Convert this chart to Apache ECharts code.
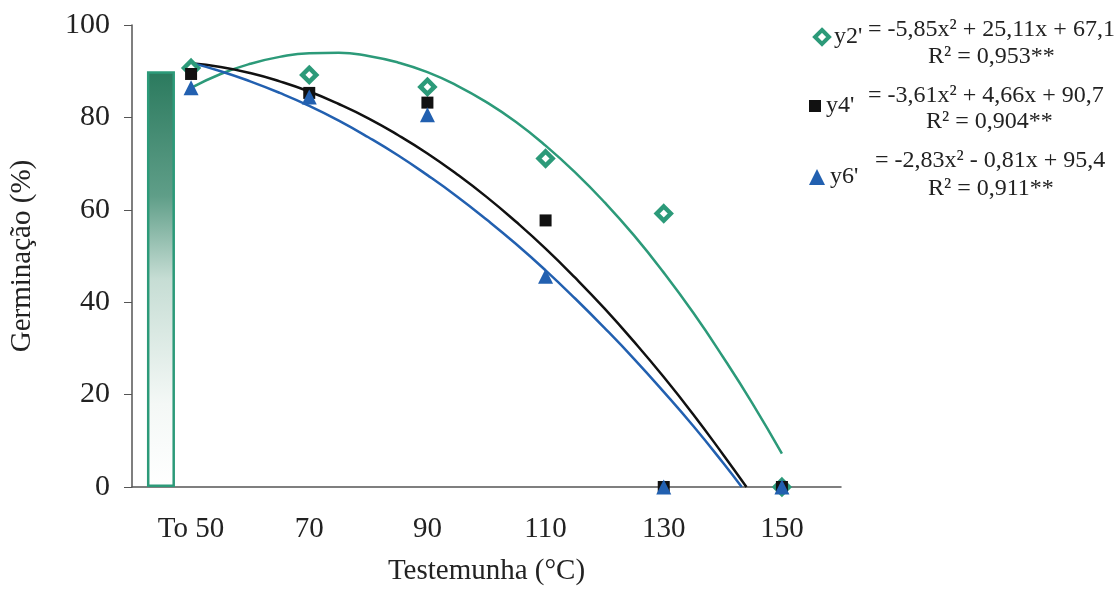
<!DOCTYPE html>
<html><head><meta charset="utf-8">
<script src="https://cdn.jsdelivr.net/npm/echarts@6/dist/echarts.min.js"></script>
<style>html,body{margin:0;padding:0;background:#fff}#c{width:1120px;height:591px}</style>
</head><body><div id="c"></div>
<script>
// ---- data ----
const categories = ['To 50', '70', '90', '110', '130', '150'];
const controlLabel = 'To';
const controlX = 0.745;          // position of the control bar (category units)
const controlValue = 90;
const y2Points = [90.7, 89.2, 86.6, 71.1, 59.2, 0];
const y4Points = [89.4, 85.3, 83.2, 57.7, 0, 0];
const y6Points = [86.4, 84.4, 80.6, 45.6, 0, 0];
const y2CurveX = [1, 1.25, 1.5, 1.75, 2, 2.25, 2.5, 2.75, 3, 3.25, 3.5, 3.75, 4, 4.25, 4.5, 4.75, 5, 5.25, 5.5, 5.75, 6];
const y2Curve  = [86.4, 89.4, 91.6, 93.1, 93.9, 94.0, 93.3, 91.9, 89.8, 86.9, 83.3, 79.0, 73.9, 68.1, 61.6, 54.4, 46.4, 37.7, 28.2, 18.1, 7.2];
const y4CurveX = [1, 1.25, 1.5, 1.75, 2, 2.25, 2.5, 2.75, 3, 3.25, 3.5, 3.75, 4, 4.25, 4.5, 4.75, 5, 5.25, 5.5, 5.7];
const y4Curve  = [91.7, 90.9, 89.6, 87.8, 85.6, 82.9, 79.8, 76.2, 72.2, 67.7, 62.8, 57.4, 51.6, 45.3, 38.6, 31.4, 23.8, 15.7, 7.1, 0];
const y6CurveX = [1, 1.25, 1.5, 1.75, 2, 2.25, 2.5, 2.75, 3, 3.25, 3.5, 3.75, 4, 4.25, 4.5, 4.75, 5, 5.25, 5.5, 5.66];
const y6Curve  = [91.8, 90.0, 87.8, 85.3, 82.5, 79.3, 75.7, 71.8, 67.5, 62.9, 57.9, 52.6, 46.9, 40.8, 34.4, 27.7, 20.6, 13.2, 5.3, 0];
const seriesNames = ["y2'", "y4'", "y6'"];
const equations = ['= -5,85x² + 25,11x + 67,1', '= -3,61x² + 4,66x + 90,7', '= -2,83x² - 0,81x + 95,4'];
const r2Texts = ['R² = 0,953**', 'R² = 0,904**', 'R² = 0,911**'];
const yTicks = {min: 0, max: 100, interval: 20};

// ---- styles ----
const FONT = 'Liberation Serif';
const GREEN = '#2c9a79', BLACK = '#111111', BLUE = '#2260b0';
const pair = (xs, ys) => xs.map((x, i) => [x, ys[i]]);
const pts = (ys) => ys.map((v, i) => [i + 1, v]);
const legendItemStyles = [
  {color: '#ffffff', borderColor: GREEN, borderWidth: 4},
  {color: BLACK},
  {color: BLUE}
];

const chart = echarts.init(document.getElementById('c'));

chart.setOption({
  backgroundColor: '#fff',
  animation: false,
  grid: {left: 130, right: 279, top: 25, bottom: 102},
  xAxis: [{
    type: 'category', data: categories, boundaryGap: true,
    axisLine: {lineStyle: {color: '#555', width: 1.5}},
    axisTick: {length: 6, lineStyle: {color: '#555'}},
    axisLabel: {fontFamily: FONT, fontSize: 29, color: '#222', margin: 28},
    name: 'Testemunha (°C)', nameLocation: 'middle', nameGap: 70,
    nameTextStyle: {fontFamily: FONT, fontSize: 29, color: '#222'}
  }, {
    type: 'value', min: 0.5, max: 6.5, show: false
  }],
  yAxis: {
    type: 'value', min: yTicks.min, max: yTicks.max, interval: yTicks.interval,
    splitLine: {show: false},
    axisLine: {show: true, lineStyle: {color: '#555', width: 1.5}},
    axisTick: {show: true, length: 8, lineStyle: {color: '#555'}},
    axisLabel: {fontFamily: FONT, fontSize: 30, color: '#222', margin: 22},
    name: 'Germinação (%)', nameLocation: 'middle', nameGap: 95, nameRotate: 90,
    nameTextStyle: {fontFamily: FONT, fontSize: 29, color: '#222'}
  },
  legend: [0, 1, 2].map(i => ({
    data: [{name: seriesNames[i], itemStyle: legendItemStyles[i]}],
    left: [808, 804, 804][i], top: [20, 89, 160][i],
    itemWidth: [14, 12, 16][i], itemHeight: [14, 12, 16][i], selectedMode: false,
    textStyle: {fontFamily: FONT, fontSize: 24, color: '#222'}
  })),
  graphic: [0, 1, 2].flatMap(i => [
    {type: 'text', left: [868, 868, 875][i], top: [18, 84, 149][i],
     style: {text: equations[i], font: '24px ' + FONT, fill: '#222'}},
    {type: 'text', left: [928, 926, 928][i], top: [45, 110, 177][i],
     style: {text: r2Texts[i], font: '24px ' + FONT, fill: '#222'}}
  ]),
  series: [
    {type: 'bar', name: controlLabel, xAxisIndex: 1, barWidth: 28,
     data: [[controlX, controlValue]], z: 1,
     itemStyle: {
       color: {type: 'linear', x: 0, y: 0, x2: 0, y2: 1, colorStops: [
         {offset: 0, color: '#2b7a5e'}, {offset: 0.3, color: '#5f9e88'},
         {offset: 0.5, color: '#c6ddd4'}, {offset: 0.8, color: '#f4f8f6'}, {offset: 1, color: '#ffffff'}]},
       borderColor: GREEN, borderWidth: 2.5
     }},
    {type: 'line', xAxisIndex: 1, data: pair(y2CurveX, y2Curve), smooth: true, showSymbol: false,
     lineStyle: {color: GREEN, width: 2.5}, z: 2, silent: true},
    {type: 'line', xAxisIndex: 1, data: pair(y4CurveX, y4Curve), smooth: true, showSymbol: false,
     lineStyle: {color: BLACK, width: 2.5}, z: 2, silent: true},
    {type: 'line', xAxisIndex: 1, data: pair(y6CurveX, y6Curve), smooth: true, showSymbol: false,
     lineStyle: {color: BLUE, width: 2.5}, z: 2, silent: true},
    {type: 'scatter', name: seriesNames[0], xAxisIndex: 1, data: pts(y2Points), symbol: 'diamond', symbolSize: 14,
     itemStyle: {color: '#ffffff', borderColor: GREEN, borderWidth: 4.5, opacity: 1}, z: 3},
    {type: 'scatter', name: seriesNames[1], xAxisIndex: 1, data: pts(y4Points), symbol: 'rect', symbolSize: 12,
     itemStyle: {color: BLACK, opacity: 1}, z: 4},
    {type: 'scatter', name: seriesNames[2], xAxisIndex: 1, data: pts(y6Points), symbol: 'triangle', symbolSize: 15,
     itemStyle: {color: BLUE, opacity: 1}, z: 5}
  ]
});
</script></body></html>
